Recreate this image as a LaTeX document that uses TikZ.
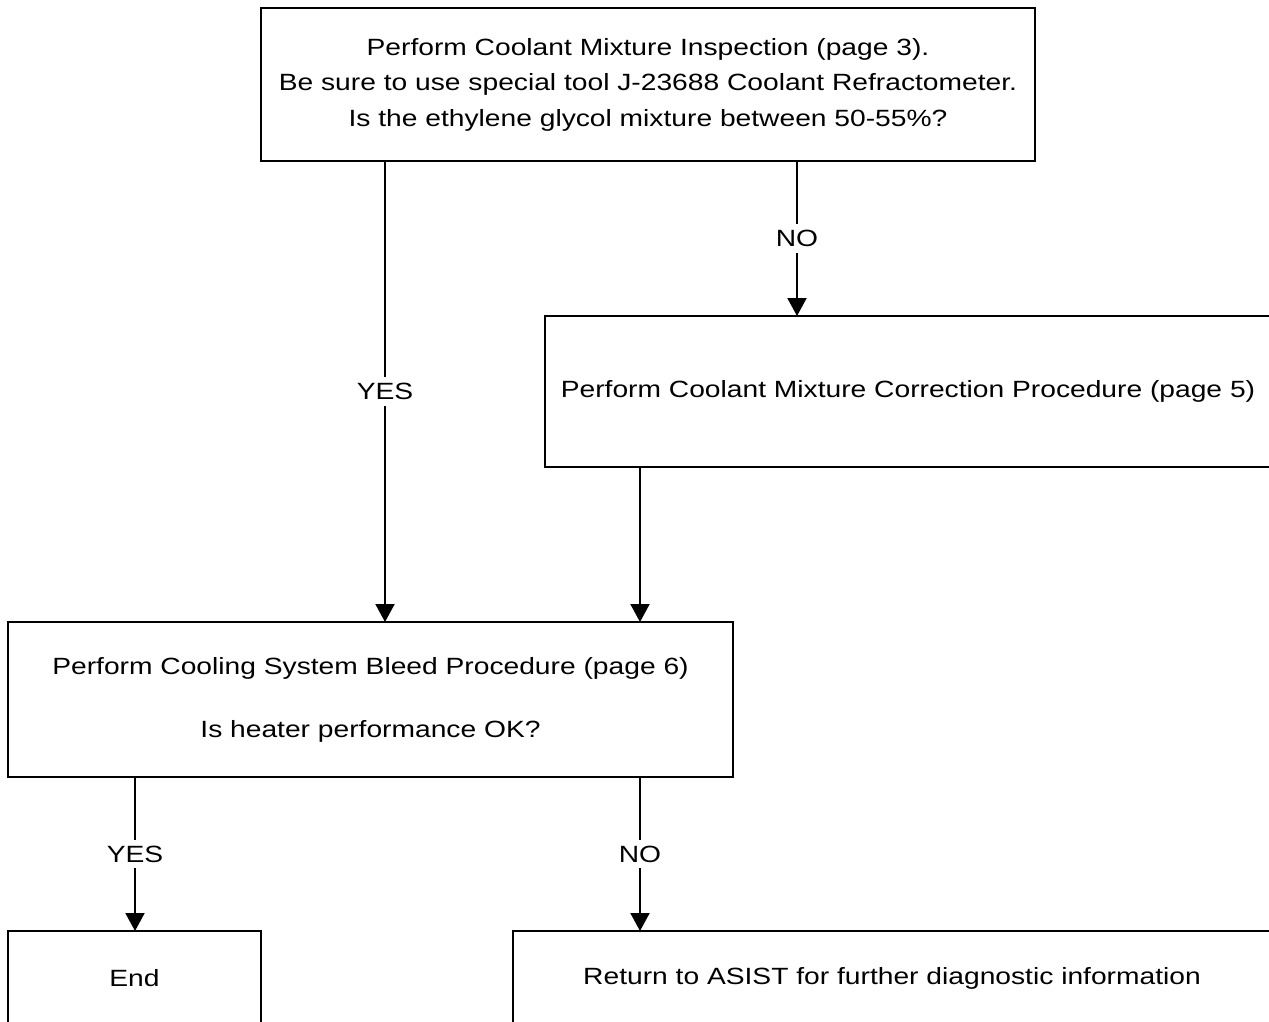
\documentclass[tikz,border=0pt]{standalone}
\usepackage{fontspec}
\setmainfont{Liberation Sans}[FakeStretch=1.2]
\usetikzlibrary{arrows.meta}
\begin{document}
\begin{tikzpicture}[x=1pt,y=-1pt,
  box/.style={draw=black,line width=2.4pt,rectangle,inner sep=0pt,align=center,
    font=\fontsize{23.5}{35.5}\selectfont},
  conn/.style={line width=2pt,-{Triangle[length=18pt,width=19pt]}},
  lbl/.style={fill=white,inner xsep=1pt,inner ysep=6pt,font=\fontsize{23.5}{28}\selectfont}]
\useasboundingbox (0,0) rectangle (1269,1021);
\clip (0,0) rectangle (1269,1021);
\fill[white] (0,0) rectangle (1269,1021);
\node[box,minimum width=774pt,minimum height=153pt] (b1) at (648,84.5)
  {Perform Coolant Mixture Inspection (page 3).\\
   Be sure to use special tool J-23688 Coolant Refractometer.\\
   Is the ethylene glycol mixture between 50-55\%?};
\node[box,minimum width=726pt,minimum height=151pt] (b2) at (908,391.5)
  {Perform Coolant Mixture Correction Procedure (page 5)};
\node[box,minimum width=725pt,minimum height=155pt] (b3) at (370.5,699.5)
  {Perform Cooling System Bleed Procedure (page 6)\\[27.5pt]
   Is heater performance OK?};
\node[box,minimum width=253pt,minimum height=94pt] (b4) at (134.5,978)
  {End};
\node[box,minimum width=758pt,minimum height=94pt] (b5) at (892,978)
  {Return to ASIST for further diagnostic information};
\coordinate (s1) at (385,161);
\coordinate (e1) at (385,622);
\coordinate (s2) at (797,161);
\coordinate (e2) at (797,316);
\coordinate (s3) at (640,467);
\coordinate (e3) at (640,622);
\coordinate (s4) at (135,777);
\coordinate (e4) at (135,931);
\coordinate (s5) at (640,777);
\coordinate (e5) at (640,931);
\draw[conn] (s1) -- node[lbl] (l1) {YES} (e1);
\draw[conn] (s2) -- node[lbl] (l2) {NO} (e2);
\draw[conn] (s3) -- (e3);
\draw[conn] (s4) -- node[lbl] (l4) {YES} (e4);
\draw[conn] (s5) -- node[lbl] (l5) {NO} (e5);
\end{tikzpicture}
\end{document}
